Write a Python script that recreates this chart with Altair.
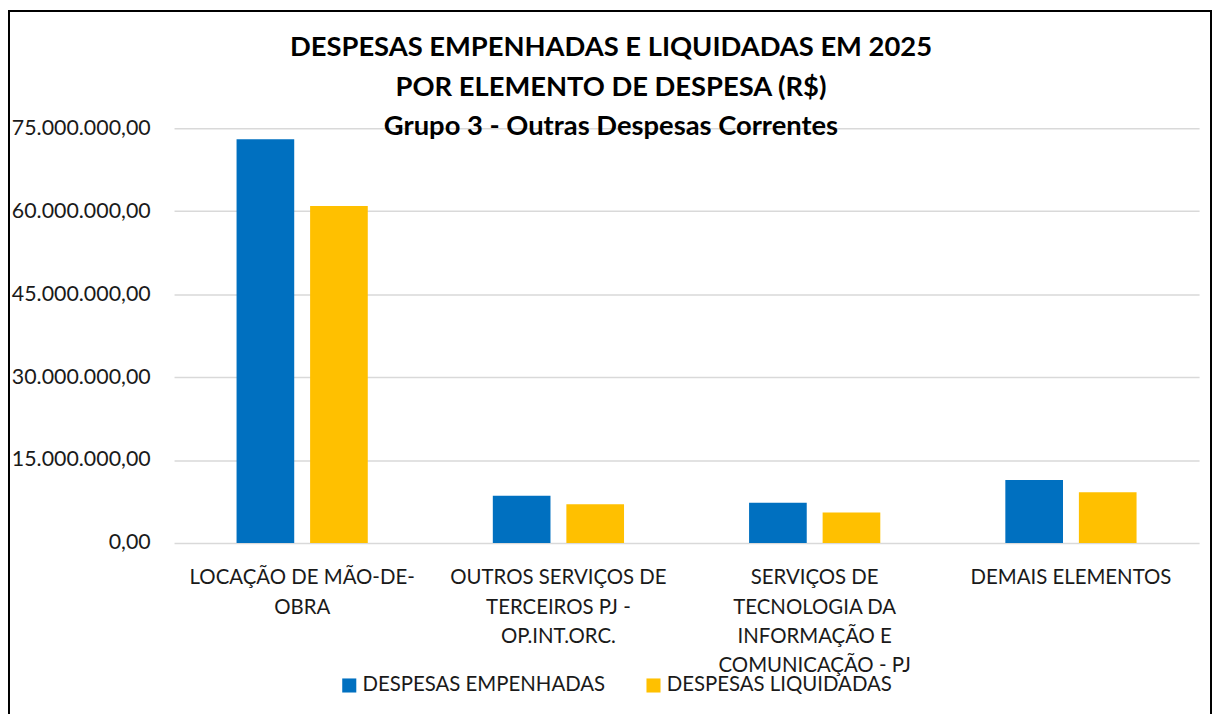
import altair as alt
import pandas as pd

categories = [
    ["LOCAÇÃO DE MÃO-DE-", "OBRA"],
    ["OUTROS SERVIÇOS DE", "TERCEIROS PJ -", "OP.INT.ORC."],
    ["SERVIÇOS DE", "TECNOLOGIA DA", "INFORMAÇÃO E", "COMUNICAÇÃO - PJ"],
    ["DEMAIS ELEMENTOS"],
]
series = ["DESPESAS EMPENHADAS", "DESPESAS LIQUIDADAS"]
empenhadas = [73050000, 8550000, 7250000, 11380000]
liquidadas = [60970000, 7010000, 5500000, 9170000]
colors = ["#0070C0", "#FFC000"]
y_ticks = [0, 15000000, 30000000, 45000000, 60000000, 75000000]
title_lines = [
    "DESPESAS EMPENHADAS E LIQUIDADAS EM 2025",
    "POR ELEMENTO DE DESPESA (R$)",
    "Grupo 3 - Outras Despesas Correntes",
]

cat_keys = ["|".join(c) for c in categories]
rows = []
for k, e, l in zip(cat_keys, empenhadas, liquidadas):
    rows.append({"cat": k, "serie": series[0], "valor": e})
    rows.append({"cat": k, "serie": series[1], "valor": l})
df = pd.DataFrame(rows)

FONT = "Lato"
TXT = "#1a1a1a"

bars = alt.Chart(df).mark_bar().encode(
    x=alt.X(
        "cat:N",
        sort=cat_keys,
        scale=alt.Scale(paddingInner=0, paddingOuter=0),
        axis=alt.Axis(
            title=None,
            labelAngle=0,
            labelExpr="split(datum.label, '|')",
            labelFont=FONT,
            labelFontSize=20.5,
            labelColor=TXT,
            labelLineHeight=29.5,
            labelPadding=25,
            labelLimit=400,
            labelBaseline="top",
            ticks=False,
            domain=False,
            grid=False,
        ),
    ),
    xOffset=alt.XOffset(
        "serie:N",
        sort=series,
        scale=alt.Scale(paddingInner=0.216, paddingOuter=0.85),
    ),
    y=alt.Y(
        "valor:Q",
        scale=alt.Scale(domain=[0, 75000000], nice=False),
        axis=alt.Axis(
            title=None,
            values=y_ticks,
            format=",.2f",
            labelFont=FONT,
            labelFontSize=21.5,
            labelColor=TXT,
            labelPadding=24,
            ticks=False,
            domain=False,
            grid=True,
            gridColor="#d9d9d9",
            gridWidth=1.5,
        ),
    ),
    color=alt.Color(
        "serie:N",
        sort=series,
        scale=alt.Scale(domain=series, range=colors),
        legend=alt.Legend(
            title=None,
            orient="none",
            legendX=166,
            legendY=550,
            direction="horizontal",
            symbolType="square",
            symbolSize=200,
            symbolStrokeWidth=0,
            labelFont=FONT,
            labelFontSize=20.5,
            labelColor=TXT,
            labelOffset=3,
            columnPadding=38,
            labelLimit=400,
        ),
    ),
)

frame = alt.Chart(pd.DataFrame({"a": [0]})).mark_rect(
    fillOpacity=0, stroke="black", strokeWidth=2
).encode(
    x=alt.value(-166), x2=alt.value(1043), y=alt.value(-118), y2=alt.value(600)
)

chart = alt.layer(bars, frame).properties(
    width=1031,
    height=417,
    autosize=alt.AutoSizeParams(type="none"),
    padding={"left": 167, "top": 119, "right": 13, "bottom": 170},
    title=alt.Title(
        text=title_lines,
        font=FONT,
        fontSize=27.5,
        fontWeight="bold",
        color="black",
        anchor="middle",
        frame="group",
        dx=-76,
        lineHeight=39.5,
        offset=-131,
    ),
).configure(
    locale={"number": {"decimal": ",", "thousands": ".", "grouping": [3], "currency": ["R$", ""]}}
).configure_view(stroke=None)

chart.save("out.html", embed_options={"renderer": "svg", "actions": False})
